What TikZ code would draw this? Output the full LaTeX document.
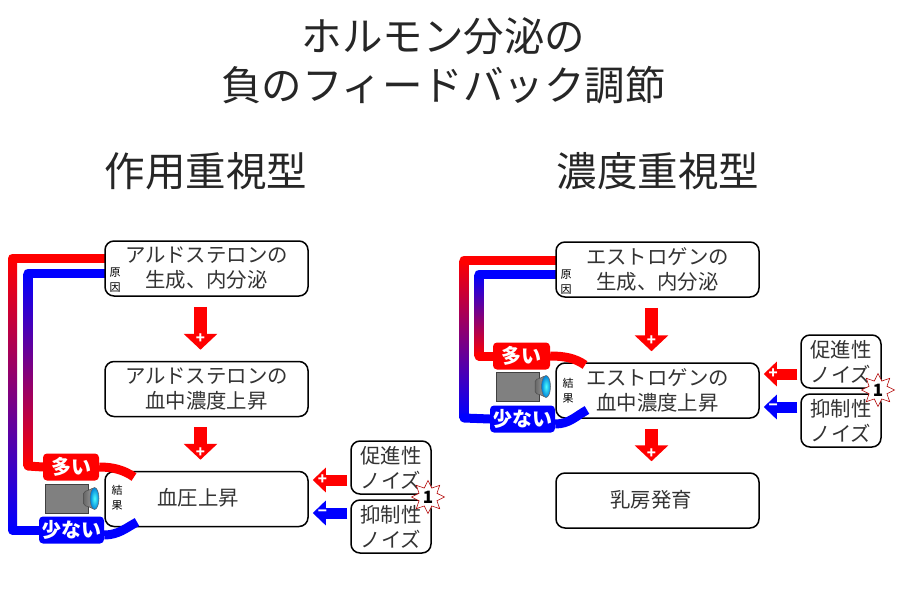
\documentclass[tikz,border=0pt]{standalone}
\usepackage{fontspec}
\setmainfont{Noto Sans CJK JP}
\usepackage{tikz}
\usetikzlibrary{arrows.meta,positioning,calc,shapes.geometric}
\definecolor{inktext}{gray}{0.2}
\tikzset{stepbox/.style={draw=black,line width=1.5pt,fill=white,rounded corners=9pt,inner sep=0pt,align=center,text=inktext,font=\fontsize{20.4}{25}\selectfont,minimum width=203pt,minimum height=55pt}}
\tikzset{noisebox/.style={stepbox,minimum width=80pt,minimum height=53pt}}
\tikzset{titletext/.style={inner sep=0pt,align=center,text=black!85,font=\fontsize{40.5}{49.5}\selectfont}}
\tikzset{tinytext/.style={inner sep=0pt,align=center,font=\fontsize{11}{15}\selectfont}}
\tikzset{looptag/.style={rounded corners=4pt,inner sep=0pt,text=white,font=\bfseries\fontsize{20}{20}\selectfont,minimum height=27pt}}
\tikzset{loopline/.style={line width=9pt,line cap=round}}
\tikzset{curveline/.style={line width=9pt}}
\tikzset{downarrow/.style={red,line width=13pt,-{Triangle[length=16pt,width=33pt]},shorten <=10pt,shorten >=11pt}}
\tikzset{sidearrow/.style={line width=11pt,-{Triangle[length=13pt,width=24pt]},shorten <=3pt,shorten >=4pt}}
\tikzset{signtext/.style={inner sep=0pt,text=white,font=\bfseries\fontsize{15}{15}\selectfont}}
\tikzset{burst/.style={star,star points=8,star point ratio=1.7,draw=red!70!black,line width=0.6pt,fill=white,inner sep=0pt,minimum size=33pt}}
\tikzset{bursttext/.style={inner sep=0pt,font=\bfseries\fontsize{17}{17}\selectfont}}
\tikzset{camera/.pic={
    \draw[fill=gray,draw=black!75,line width=0.8pt] (-21.5,-14.5) rectangle (21.5,14.5);
    \draw[left color=black!60,right color=gray!70,draw=black!70,line width=0.5pt,rounded corners=2pt] (17,-7) -- (22,-8) -- (27,-11) -- (28,11) -- (22,8) -- (17,7) -- cycle;
    \draw[inner color=cyan!70,outer color=blue!40!cyan!85!black,draw=black!60,line width=0.5pt] (28,0) ellipse (4.5 and 11);
}}

\begin{document}
\begin{tikzpicture}[x=1pt,y=-1pt,>=Stealth]
\useasboundingbox (0,0) rectangle (900,592);
    \node[titletext] (title) at (443.5,61) {ホルモン分泌の\\負のフィードバック調節};
    \node[titletext] (headA) at (206,171) {作用重視型};
    \node[titletext] (headB) at (658,171) {濃度重視型};

    \coordinate (outA1) at (12.5,258);
    \coordinate (outA2) at (12.5,530);
    \coordinate (inA1) at (28,273);
    \coordinate (inA2) at (28,466);
    \coordinate (outB1) at (464,260);
    \coordinate (outB2) at (464,418);
    \coordinate (inB1) at (479,274);
    \coordinate (inB2) at (479,356);

    \shade[top color=red,bottom color=blue] ([xshift=-4.5pt]outA1) rectangle ([xshift=4.5pt]outA2);
    \shade[top color=blue,bottom color=red] ([xshift=-4.5pt]inA1) rectangle ([xshift=4.5pt]inA2);
    \shade[top color=red,bottom color=blue] ([xshift=-4.5pt]outB1) rectangle ([xshift=4.5pt]outB2);
    \shade[top color=blue,bottom color=red] ([xshift=-4.5pt]inB1) rectangle ([xshift=4.5pt]inB2);

    \coordinate (startOutA) at (110,258);
    \coordinate (startInA) at (110,273);
    \coordinate (startOutB) at (561,260);
    \coordinate (startInB) at (561,274);
    \draw[loopline,red] (startOutA) -- (outA1);
    \draw[loopline,blue] (startInA) -- (inA1);
    \draw[loopline,red] (startOutB) -- (outB1);
    \draw[loopline,blue] (startInB) -- (inB1);

    \node[stepbox] (aldo) at (206.5,268.5) {アルドステロンの\\生成、内分泌};
    \node[stepbox] (aldoBlood) at (206.5,389) {アルドステロンの\\血中濃度上昇};
    \node[stepbox] (pressure) at (206.5,499) {\raisebox{4pt}{血圧上昇}\hspace*{17pt}};
    \node[noisebox] (plusA) at (391,467.5) {促進性\\ノイズ};
    \node[noisebox] (minusA) at (391,526.5) {抑制性\\ノイズ};
    \node[stepbox] (estro) at (657.5,269.5) {エストロゲンの\\生成、内分泌};
    \node[stepbox] (estroBlood) at (657.5,390.5) {エストロゲンの\\血中濃度上昇};
    \node[stepbox] (breast) at (657.5,500.5) {\raisebox{4pt}{乳房発育}\hspace*{13pt}};
    \node[noisebox] (plusB) at (841,361.5) {促進性\\ノイズ};
    \node[noisebox] (minusB) at (841,420.5) {抑制性\\ノイズ};

    \node[tinytext] (causeA) at (115,280.5) {原\\因};
    \node[tinytext] (resultA) at (117,497.5) {結\\果};
    \node[tinytext] (causeB) at (566,282.5) {原\\因};
    \node[tinytext] (resultB) at (568,390.5) {結\\果};

    \node[looptag,fill=red,minimum width=56pt] (manyA) at (71,467) {多い};
    \node[looptag,fill=blue,minimum width=65pt] (fewA) at (71.5,530) {少ない};
    \node[looptag,fill=red,minimum width=57pt] (manyB) at (521.5,356) {多い};
    \node[looptag,fill=blue,minimum width=65pt] (fewB) at (522.5,419) {少ない};

    \draw[loopline,red] (inA2) -- (manyA.west);
    \draw[loopline,blue] (outA2) -- (fewA.west);
    \draw[loopline,red] (inB2) -- (manyB.west);
    \draw[loopline,blue] (outB2) -- (fewB.west);

    \coordinate (endManyA) at (134,477);
    \coordinate (endFewA) at (137,522);
    \coordinate (endManyB) at (585,365);
    \coordinate (endFewB) at (587,410);
    \draw[curveline,red] (manyA.east) .. controls +(14,0) and +(-10,-7) .. (endManyA);
    \draw[curveline,blue] ([yshift=-5pt]fewA.east) .. controls +(14,0) and +(-11,6) .. (endFewA);
    \draw[curveline,red] (manyB.east) .. controls +(14,0) and +(-10,-7) .. (endManyB);
    \draw[curveline,blue] ([yshift=-5pt]fewB.east) .. controls +(14,0) and +(-11,6) .. (endFewB);

    \pic at (66.5,498.5) {camera};
    \pic at (518,386.5) {camera};

    \draw[downarrow] ([xshift=-6pt]aldo.south) -- ([xshift=-6pt]aldoBlood.north) node[signtext,pos=.66] (signA1) {+};
    \draw[downarrow] ([xshift=-6pt]aldoBlood.south) -- ([xshift=-6pt]pressure.north) node[signtext,pos=.66] (signA2) {+};
    \draw[downarrow] ([xshift=-6pt]estro.south) -- ([xshift=-6pt]estroBlood.north) node[signtext,pos=.66] (signB1) {+};
    \draw[downarrow] ([xshift=-6pt]estroBlood.south) -- ([xshift=-6pt]breast.north) node[signtext,pos=.66] (signB2) {+};

    \coordinate (fromPlusA) at ([yshift=-12.5pt]plusA.west);
    \coordinate (fromMinusA) at ([yshift=13.5pt]minusA.west);
    \coordinate (fromPlusB) at ([yshift=-12.5pt]plusB.west);
    \coordinate (fromMinusB) at ([yshift=13.5pt]minusB.west);
    \draw[sidearrow,red] (fromPlusA) -- (fromPlusA -| pressure.east) node[signtext,pos=.67] (signA3) {+};
    \draw[sidearrow,blue] (fromMinusA) -- (fromMinusA -| pressure.east) node[signtext,pos=.67] (signA4) {−};
    \draw[sidearrow,red] (fromPlusB) -- (fromPlusB -| estroBlood.east) node[signtext,pos=.67] (signB3) {+};
    \draw[sidearrow,blue] (fromMinusB) -- (fromMinusB -| estroBlood.east) node[signtext,pos=.67] (signB4) {−};

    \node[burst] (burstA) at (428,497) {};
    \node[bursttext] (markA) at (burstA) {1};
    \node[burst] (burstB) at (878,390) {};
    \node[bursttext] (markB) at (burstB) {1};
\end{tikzpicture}
\end{document}
